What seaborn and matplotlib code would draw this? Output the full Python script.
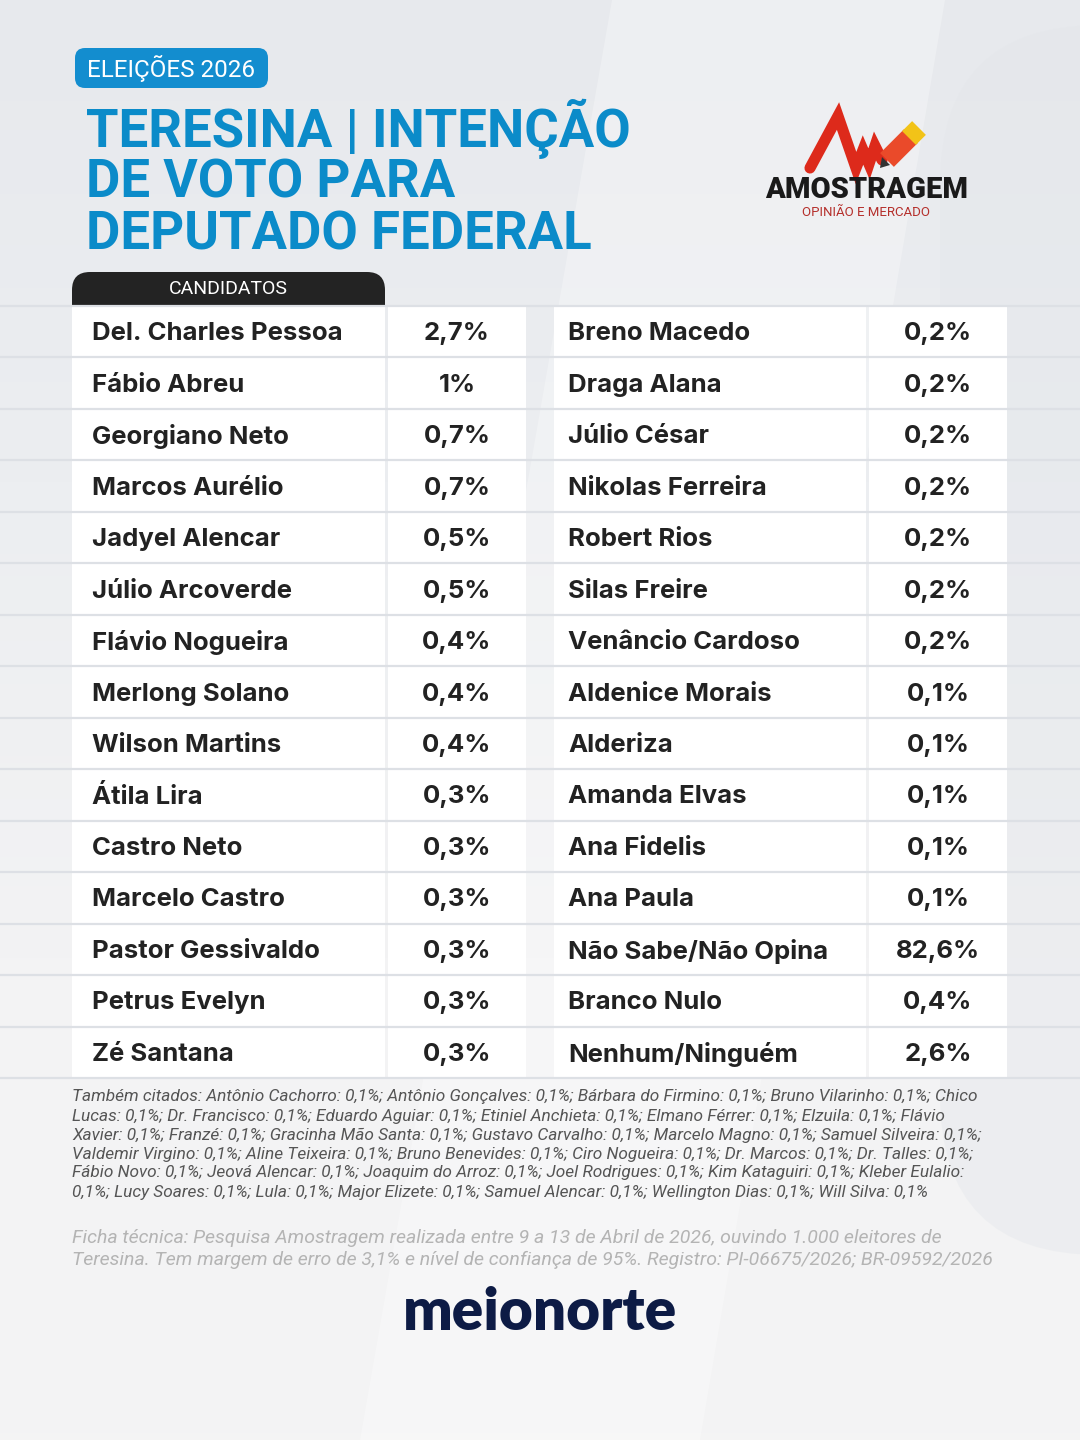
import numpy as np
import matplotlib
matplotlib.use("Agg")
import matplotlib.pyplot as plt
from matplotlib.colors import ListedColormap, LinearSegmentedColormap
from matplotlib.patches import FancyBboxPatch, Polygon
import seaborn as sns

sns.set_theme(style="white")
plt.rcParams['font.family'] = ['Inter', 'DejaVu Sans']

### data
left_names = ['Del. Charles Pessoa', 'Fábio Abreu', 'Georgiano Neto', 'Marcos Aurélio',
              'Jadyel Alencar', 'Júlio Arcoverde', 'Flávio Nogueira', 'Merlong Solano',
              'Wilson Martins', 'Átila Lira', 'Castro Neto', 'Marcelo Castro',
              'Pastor Gessivaldo', 'Petrus Evelyn', 'Zé Santana']
left_values = ['2,7%', '1%', '0,7%', '0,7%', '0,5%', '0,5%', '0,4%', '0,4%',
               '0,4%', '0,3%', '0,3%', '0,3%', '0,3%', '0,3%', '0,3%']
right_names = ['Breno Macedo', 'Draga Alana', 'Júlio César', 'Nikolas Ferreira',
               'Robert Rios', 'Silas Freire', 'Venâncio Cardoso', 'Aldenice Morais',
               'Alderiza', 'Amanda Elvas', 'Ana Fidelis', 'Ana Paula',
               'Não Sabe/Não Opina', 'Branco Nulo', 'Nenhum/Ninguém']
right_values = ['0,2%', '0,2%', '0,2%', '0,2%', '0,2%', '0,2%', '0,2%', '0,1%',
                '0,1%', '0,1%', '0,1%', '0,1%', '82,6%', '0,4%', '2,6%']

badge_text = 'ELEIÇÕES 2026'
title_lines = ['TERESINA | INTENÇÃO', 'DE VOTO PARA', 'DEPUTADO FEDERAL']
header_text = 'CANDIDATOS'
cited_lines = [
    'Também citados: Antônio Cachorro: 0,1%; Antônio Gonçalves: 0,1%; Bárbara do Firmino: 0,1%; Bruno Vilarinho: 0,1%; Chico',
    'Lucas: 0,1%; Dr. Francisco: 0,1%; Eduardo Aguiar: 0,1%; Etiniel Anchieta: 0,1%; Elmano Férrer: 0,1%; Elzuila: 0,1%; Flávio',
    'Xavier: 0,1%; Franzé: 0,1%; Gracinha Mão Santa: 0,1%; Gustavo Carvalho: 0,1%; Marcelo Magno: 0,1%; Samuel Silveira: 0,1%;',
    'Valdemir Virgino: 0,1%; Aline Teixeira: 0,1%; Bruno Benevides: 0,1%; Ciro Nogueira: 0,1%; Dr. Marcos: 0,1%; Dr. Talles: 0,1%;',
    'Fábio Novo: 0,1%; Jeová Alencar: 0,1%; Joaquim do Arroz: 0,1%; Joel Rodrigues: 0,1%; Kim Kataguiri: 0,1%; Kleber Eulalio:',
    '0,1%; Lucy Soares: 0,1%; Lula: 0,1%; Major Elizete: 0,1%; Samuel Alencar: 0,1%; Wellington Dias: 0,1%; Will Silva: 0,1%',
]
ficha_lines = [
    'Ficha técnica: Pesquisa Amostragem realizada entre 9 a 13 de Abril de 2026, ouvindo 1.000 eleitores de',
    'Teresina. Tem margem de erro de 3,1% e nível de confiança de 95%. Registro: PI-06675/2026; BR-09592/2026',
]

W, H = 1080, 1440
BLUE = '#0b8bc9'
INK = '#222222'
LINE = '#dde0e5'

fig = plt.figure(figsize=(W / 100, H / 100), dpi=100)

### background (pixel coordinates, y down)
bg = fig.add_axes([0, 0, 1, 1])
bg.set_xlim(0, W)
bg.set_ylim(H, 0)
bg.set_axis_off()
grad = np.linspace(0, 1, 200)[:, None] * np.ones((1, 2))
bg_cmap = LinearSegmentedColormap.from_list('bg', ['#e7e9ed', '#eceef1', '#f3f3f4', '#f4f4f4'])
bg.imshow(grad, cmap=bg_cmap, extent=[0, W, H, 0], aspect='auto', zorder=0)
bg.add_patch(Polygon([(612, 0), (945, 0), (700, 1440), (360, 1440)], closed=True,
                     facecolor='white', alpha=0.28, lw=0, zorder=1))
bg.add_patch(FancyBboxPatch((940, 25), 400, 1230, boxstyle='round,pad=0,rounding_size=160',
                            facecolor='#e3e6ea', alpha=0.4, lw=0, zorder=1))

# badge
bg.add_patch(FancyBboxPatch((75, 48), 193, 40, boxstyle='round,pad=0,rounding_size=10',
                            facecolor='#138dcf', lw=0, zorder=3))
bg.text(171, 69, badge_text, color='white', fontsize=17.5, family=['Roboto', 'DejaVu Sans'],
        ha='center', va='center', zorder=4)

# title
for i, line in enumerate(title_lines):
    bg.text(86, 147 + i * 51, line, color=BLUE, fontsize=38, fontweight='bold',
            family=['Roboto', 'DejaVu Sans'], ha='left', va='baseline', zorder=4)

# amostragem logo
bg.plot([810, 838, 856, 863, 869, 875, 882], [168, 116, 168, 150, 164, 146, 160],
        color='#dd2a1b', lw=8, solid_joinstyle='miter', zorder=4)
bg.plot([887, 911], [160, 136], color='#ea4a2a', lw=14, solid_capstyle='butt', zorder=4)
bg.plot([909, 919], [138, 128], color='#f2c318', lw=14, solid_capstyle='butt', zorder=5)
bg.add_patch(Polygon([(882, 157), (890, 165), (880, 168)], closed=True,
                     facecolor='#333333', lw=0, zorder=5))
bg.text(867, 190, 'AMOSTRAGEM', color='#1a1a1a', fontsize=21, fontweight='heavy',
        family=['Liberation Sans Narrow', 'Roboto', 'DejaVu Sans'], ha='center', va='center', zorder=4)
bg.text(866, 213, 'OPINIÃO E MERCADO', color='#b5302c', fontsize=9.5,
        family=['Liberation Sans Narrow', 'Roboto', 'DejaVu Sans'], ha='center', va='center', zorder=4)

# candidates tab
bg.add_patch(FancyBboxPatch((72, 272), 313, 60, boxstyle='round,pad=0,rounding_size=18',
                            facecolor='#232323', lw=0, zorder=3))
bg.text(228, 289, header_text, color='white', fontsize=14, family=['Roboto', 'DejaVu Sans'],
        ha='center', va='center', zorder=4)

### table columns as seaborn heatmaps
top, bottom = 306, 1078
n_rows = len(left_names)
row_h = (bottom - top) / n_rows
white = ListedColormap(['white'])
columns = [
    (72, 385, left_names, 'name', 0.064),
    (388, 526, left_values, 'value', 0.5),
    (554, 866, right_names, 'name', 0.045),
    (869, 1007, right_values, 'value', 0.5),
]
for x0, x1, labels, kind, xpos in columns:
    ax = fig.add_axes([x0 / W, 1 - bottom / H, (x1 - x0) / W, (bottom - top) / H])
    cells = np.zeros((n_rows, 1))
    annot = np.array(labels, dtype=object).reshape(-1, 1)
    sns.heatmap(cells, ax=ax, cmap=white, cbar=False, annot=annot, fmt='',
                annot_kws=dict(fontsize=18.5, fontweight='bold', color=INK),
                xticklabels=False, yticklabels=False)
    if kind == 'name':
        for t in ax.texts:
            t.set_x(xpos)
            t.set_ha('left')
    for t in ax.texts:
        t.set_y(t.get_position()[1] + 0.04)
    ax.set_axis_off()

### overlay: row separators and notes
ov = fig.add_axes([0, 0, 1, 1])
ov.set_xlim(0, W)
ov.set_ylim(H, 0)
ov.set_axis_off()
ov.patch.set_alpha(0)
ov.hlines([top + i * row_h for i in range(n_rows + 1)], 0, W, color=LINE, lw=1.6)

for i, line in enumerate(cited_lines):
    ov.text(72, 1097 + i * 19, line, color='#555555', fontsize=12.4, fontstyle='italic',
            family=['Roboto', 'DejaVu Sans'], ha='left', va='center')
for i, line in enumerate(ficha_lines):
    ov.text(72, 1238 + i * 21.5, line, color='#b4b4b4', fontsize=14, fontstyle='italic',
            family=['Roboto', 'DejaVu Sans'], ha='left', va='center')

ov.text(540, 1312, 'meionorte', color='#0d1b45', fontsize=42, fontweight='heavy',
        family=['Lato', 'DejaVu Sans'], ha='center', va='center')

fig.savefig('out.png', dpi=100)
